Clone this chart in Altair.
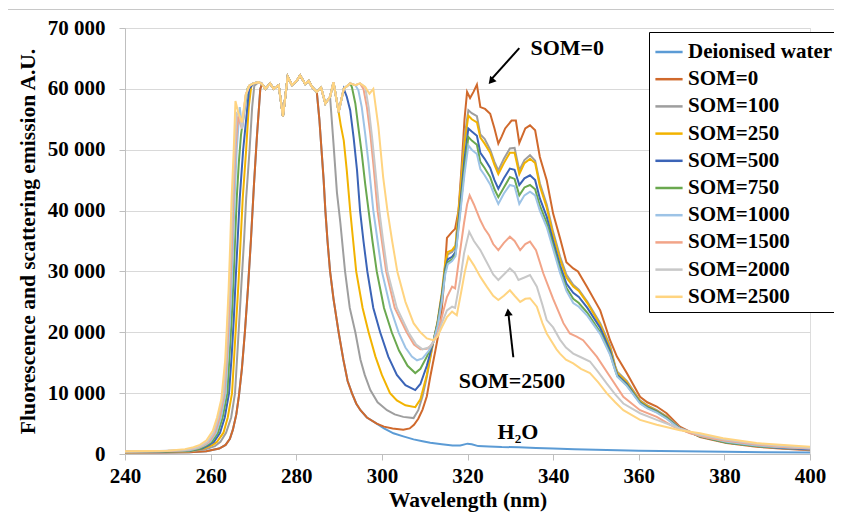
import altair as alt
import pandas as pd

SERIES = ["Deionised water", "SOM=0", "SOM=100", "SOM=250", "SOM=500",
          "SOM=750", "SOM=1000", "SOM=1500", "SOM=2000", "SOM=2500"]
COLORS = ["#5B9BD5", "#D0692C", "#9E9E9E", "#F2B300", "#3B64B7",
          "#6AA84F", "#9DC3E6", "#F2A488", "#C8C8C8", "#FFD480"]

# Saturated scattering plateau shared by all curves (wavelength, value)
PLATEAU = [(269.0, 60500), (270.0, 60900), (271.2, 61100), (272.0, 60800), (272.8, 60000),
           (273.9, 60900), (274.7, 60000), (275.9, 60600), (276.9, 55500), (278.0, 62000),
           (279.0, 60600), (280.2, 61400), (280.9, 62200), (282.1, 60800), (282.9, 61300),
           (283.7, 60300), (284.8, 59500), (285.8, 60200), (286.8, 57600), (287.9, 58700),
           (288.7, 61100), (289.9, 56200), (291.1, 60000), (292.6, 60900), (293.8, 60600),
           (294.9, 60900), (296.1, 60300), (297.1, 59200), (298.0, 60000)]

WATER_RISE = [(240, 250), (248, 250), (255, 300), (259, 450), (262, 900), (263.5, 1500), (264.5, 2500),
              (265.2, 4000), (266.0, 6500), (266.6, 9500), (267.3, 14000), (268.0, 20000), (268.7, 27000),
              (269.4, 35000), (270.1, 44000), (270.8, 52000), (271.6, 60000)]
WATER_FALL = [(285.4, 55000), (285.9, 50000), (286.4, 45000), (286.8, 40000), (287.3, 35000), (287.9, 30000),
              (288.7, 25500), (289.9, 20000), (291.0, 15500), (292.0, 12000), (293.0, 10000), (294.0, 8300),
              (295.0, 7200), (296.5, 6000), (298.8, 5000), (300.5, 4200), (302.7, 3400), (305.0, 2900),
              (307.4, 2400), (309.5, 2100), (311.3, 1850), (314.0, 1600), (316.5, 1400), (318.3, 1400),
              (320.0, 1700), (321.0, 1600), (322.5, 1300), (325.0, 1250), (328.0, 1150), (332.0, 1100),
              (336.0, 1000), (340.0, 900), (345.0, 800), (350.0, 700), (360.0, 550), (370.0, 450),
              (380.0, 350), (390.0, 300), (400.0, 250)]

SOM0_RISE = [(240, 250), (248, 250), (255, 300), (259, 450), (262, 900), (263.5, 1500), (264.5, 2500),
             (265.2, 4000), (266.0, 6500), (266.6, 9500), (267.3, 14000), (268.0, 20000), (268.7, 27000),
             (269.4, 35000), (270.1, 44000), (270.8, 52000), (271.6, 60000)]
SOM0_FALL = [(285.4, 55000), (285.9, 50000), (286.4, 45000), (286.8, 40000), (287.3, 35000), (287.9, 30000),
             (288.7, 25500), (289.9, 20000), (291.0, 15500), (292.0, 12000), (293.0, 10000), (294.0, 8300),
             (295.0, 7200), (296.5, 6000), (298.8, 5000), (300.5, 4500), (302.5, 4200), (305.0, 4000),
             (306.5, 4200), (307.5, 4800), (308.5, 5800), (309.5, 7300), (310.5, 9500), (311.3, 12700),
             (312.5, 17000), (313.7, 21500), (314.5, 28000), (315.2, 35500), (316.4, 36500), (317.1, 37000),
             (317.9, 40000), (318.6, 47000), (319.3, 55000), (319.9, 59500), (320.6, 58500), (321.4, 59500),
             (322.2, 60700), (323.0, 57000), (324.1, 56700), (325.3, 55900), (326.3, 53500), (327.2, 51000),
             (328.0, 52200), (328.8, 53500), (330.3, 54800), (331.3, 54800), (332.1, 51100), (333.5, 53500),
             (334.6, 54000), (335.8, 53200), (336.9, 48800), (338.5, 45000), (340.0, 39500), (341.6, 35500),
             (343.1, 31500), (344.7, 30500), (345.8, 30000), (347.9, 27500), (351.0, 23600), (353.3, 18700),
             (354.9, 16000), (357.2, 13300), (360.3, 9400), (362.0, 8500), (364.2, 7800), (366.5, 6700),
             (369.6, 4500), (374.3, 2800), (380.5, 1800), (387.5, 1200), (393.0, 900), (400.0, 600)]

SOM100_RISE = [(240, 300), (248, 320), (255, 400), (259, 800), (261, 1300), (262.3, 2000), (263.6, 3500),
               (264.8, 6000), (265.7, 10000), (266.2, 16000), (266.7, 22000), (267.2, 28000), (267.8, 35000),
               (268.3, 42000), (269.1, 50000), (269.7, 57000), (270.2, 60500)]
SOM100_FALL = [(288.7, 51000), (289.5, 43000), (290.3, 38000), (291.4, 30000), (292.5, 24000), (293.8, 20000),
               (295.0, 15500), (296.0, 13000), (297.3, 10500), (299.0, 8500), (301.2, 7200), (303.0, 6500),
               (305.0, 6100), (307.4, 5900), (308.5, 7200), (309.5, 9500), (310.5, 12700), (312.0, 18400),
               (313.0, 21500), (314.0, 26000), (314.8, 31000), (315.4, 32800), (316.4, 33200), (317.2, 34000),
               (318.3, 43000), (319.3, 52000), (320.2, 56500), (321.0, 56000), (322.2, 55500), (323.0, 52500),
               (324.0, 51800), (325.3, 50000), (326.3, 48000), (327.2, 46600), (328.5, 48500), (329.9, 50200),
               (331.0, 50300), (332.1, 46600), (333.3, 48300), (334.6, 49100), (335.8, 48200), (336.9, 44500),
               (338.5, 41000), (340.0, 36500), (341.6, 32500), (343.1, 29500), (344.7, 27800), (346.0, 27000),
               (348.0, 25000), (351.0, 21500), (353.3, 17800), (354.5, 14500), (355.0, 13500), (357.2, 12000),
               (360.3, 8800), (362.0, 8000), (364.2, 7200), (366.5, 6200), (369.6, 4300), (374.3, 2900),
               (380.5, 1900), (387.5, 1300), (393.0, 1000), (400.0, 700)]

SOM250_RISE = [(240, 300), (248, 320), (255, 450), (258.5, 900), (260.5, 1500), (261.5, 2000), (263.0, 3500),
               (264.0, 6000), (265.0, 10000), (265.5, 16000), (266.0, 22000), (266.5, 28000), (267.0, 35000),
               (267.5, 42000), (268.3, 50000), (268.9, 57000), (269.5, 60500)]
SOM250_FALL = [(290.4, 54000), (291.1, 51500), (291.8, 46600), (292.6, 40000), (293.3, 35000), (294.0, 30000),
               (295.5, 24000), (296.9, 20000), (298.5, 16000), (300.0, 13000), (301.9, 10000), (303.5, 8800),
               (305.5, 8000), (307.8, 7700), (309.0, 9000), (310.5, 13000), (312.0, 18400), (313.0, 21800),
               (314.0, 26500), (314.8, 31500), (315.4, 33200), (316.4, 33500), (317.2, 34300), (318.3, 43000),
               (319.3, 51000), (320.2, 55600), (321.0, 55000), (322.2, 54500), (323.0, 52000), (324.0, 51000),
               (325.3, 49500), (326.3, 47500), (327.2, 46000), (328.5, 47800), (329.9, 49500), (331.0, 49500),
               (332.1, 46000), (333.3, 47800), (334.6, 48500), (335.8, 47800), (336.9, 44000), (338.5, 40500),
               (340.0, 36000), (341.6, 32000), (343.1, 29000), (344.7, 27500), (346.0, 26800), (348.0, 24800),
               (351.0, 21200), (353.3, 17500), (354.5, 14300), (355.0, 13300), (357.2, 11800), (360.3, 8700),
               (362.0, 7900), (364.2, 7100), (366.5, 6100), (369.6, 4200), (374.3, 2900), (380.5, 1900),
               (387.5, 1300), (393.0, 1000), (400.0, 800)]

SOM500_RISE = [(240, 350), (248, 380), (255, 500), (258, 900), (259.5, 1400), (260.8, 2000), (262.2, 3500),
               (263.3, 6000), (264.3, 10000), (264.9, 16000), (265.4, 22000), (265.8, 28000), (266.3, 35000),
               (266.8, 42000), (267.6, 50000), (268.3, 55000), (269.0, 60000)]
SOM500_FALL = [(291.8, 58700), (292.6, 56500), (293.4, 52000), (294.2, 46600), (294.9, 40000), (295.7, 35000),
               (296.6, 30000), (298.0, 24000), (299.6, 20000), (301.5, 16000), (303.5, 13000), (305.5, 11300),
               (307.8, 10500), (309.0, 11500), (310.5, 14500), (312.0, 18400), (313.0, 21500), (314.0, 26000),
               (314.8, 30500), (315.4, 32000), (316.4, 32400), (317.2, 33200), (318.3, 41000), (319.3, 48500),
               (320.2, 53500), (321.0, 53000), (322.2, 52300), (323.0, 49500), (324.0, 48500), (325.3, 47000),
               (326.3, 45000), (327.2, 43600), (328.5, 45300), (329.9, 46900), (331.0, 46700), (332.1, 44200),
               (333.3, 45300), (334.6, 45800), (335.8, 45000), (336.9, 42000), (338.5, 39000), (340.0, 35000),
               (341.6, 31000), (343.1, 28000), (344.7, 26500), (346.0, 25800), (348.0, 24000), (351.0, 20700),
               (353.3, 17000), (354.5, 14000), (355.0, 13000), (357.2, 11500), (360.3, 8500), (362.0, 7700),
               (364.2, 7000), (366.5, 6000), (369.6, 4200), (374.3, 2900), (380.5, 1900), (387.5, 1300),
               (393.0, 1000), (400.0, 800)]

SOM750_RISE = [(240, 350), (248, 400), (255, 550), (257.5, 900), (259, 1400), (260.3, 2000), (261.7, 3500),
               (262.8, 6000), (263.9, 10000), (264.4, 16000), (264.9, 22000), (265.3, 28000), (265.7, 35000),
               (266.1, 42000), (266.6, 48000), (267.1, 52500), (267.8, 56000), (268.6, 60000)]
SOM750_FALL = [(293.0, 60300), (293.8, 57600), (294.5, 53700), (295.3, 49400), (296.1, 44400), (296.9, 40000),
               (297.8, 35000), (298.8, 30000), (300.5, 24000), (302.3, 20000), (304.0, 17000), (306.0, 14500),
               (307.8, 13300), (309.0, 14000), (310.5, 16000), (312.0, 18400), (313.0, 21300), (314.0, 25500),
               (314.8, 30000), (315.4, 31500), (316.4, 32000), (317.2, 32800), (318.3, 40000), (319.3, 47000),
               (320.2, 52100), (321.0, 51500), (322.2, 50800), (323.0, 48000), (324.0, 47000), (325.3, 45500),
               (326.3, 43500), (327.2, 42200), (328.5, 43800), (329.9, 45500), (331.0, 45200), (332.1, 42500),
               (333.3, 43800), (334.6, 44200), (335.8, 43500), (336.9, 40800), (338.5, 38000), (340.0, 34200),
               (341.6, 30300), (343.1, 27300), (344.7, 25500), (346.0, 24800), (348.0, 23200), (351.0, 20000),
               (353.3, 16500), (354.5, 13800), (355.0, 12800), (357.2, 11300), (360.3, 8400), (362.0, 7600),
               (364.2, 6900), (366.5, 5900), (369.6, 4100), (374.3, 2900), (380.5, 1900), (387.5, 1300),
               (393.0, 1100), (400.0, 1100)]

SOM1000_RISE = [(240, 400), (248, 450), (255, 600), (257.3, 1000), (258.8, 1500), (259.9, 2000), (261.3, 3500),
                (262.4, 6000), (263.5, 10000), (264.0, 16000), (264.5, 22000), (264.9, 28000), (265.3, 35000),
                (265.6, 42000), (266.1, 50000), (266.8, 57000), (267.4, 53500), (268.3, 59000)]
SOM1000_FALL = [(294.5, 59800), (295.3, 57000), (296.1, 52600), (296.9, 47700), (298.0, 40000), (299.0, 35000),
                (300.0, 30000), (302.0, 24000), (303.9, 20000), (305.5, 17500), (307.0, 16000), (308.2, 15400),
                (309.5, 15700), (311.0, 17000), (312.0, 18400), (313.0, 21000), (314.0, 25000), (314.8, 29500),
                (315.4, 31200), (316.4, 31700), (317.2, 32500), (318.3, 39500), (319.3, 46000), (320.2, 50700),
                (321.0, 50000), (322.2, 49300), (323.0, 46800), (324.0, 45800), (325.3, 44300), (326.3, 42500),
                (327.2, 41100), (328.5, 42800), (329.9, 44200), (331.0, 44000), (332.1, 41100), (333.3, 42500),
                (334.6, 43100), (335.8, 42500), (336.9, 40000), (338.5, 37300), (340.0, 33700), (341.6, 29800),
                (343.1, 26800), (344.7, 24800), (346.0, 24200), (348.0, 22700), (351.0, 19700), (353.3, 16300),
                (354.5, 13700), (355.0, 12700), (357.2, 11200), (360.3, 8300), (362.0, 7500), (364.2, 6800),
                (366.5, 5800), (369.6, 4100), (374.3, 3000), (380.5, 2000), (387.5, 1400), (393.0, 1100),
                (400.0, 900)]

SOM1500_RISE = [(240, 400), (248, 450), (254, 600), (257, 1000), (258.5, 1500), (259.6, 2000), (261.0, 3500),
                (262.1, 6000), (263.2, 10000), (263.8, 16000), (264.2, 22000), (264.6, 28000), (265.0, 35000),
                (265.3, 42000), (265.8, 50000), (266.4, 55500), (267.3, 53500), (268.2, 59000)]
SOM1500_FALL = [(295.7, 60000), (296.5, 57000), (297.3, 52600), (298.0, 47700), (299.0, 40000), (300.0, 35000),
                (301.0, 30000), (303.0, 24000), (305.8, 20000), (307.5, 18000), (309.0, 17200), (310.5, 17300),
                (311.5, 17800), (312.0, 18400), (313.0, 19800), (314.0, 22500), (315.2, 25800), (316.4, 27500),
                (317.1, 27200), (318.3, 33500), (319.2, 38000), (319.9, 41000), (320.5, 42500), (321.5, 41000),
                (322.2, 39800), (323.0, 38400), (324.0, 37000), (325.0, 36000), (326.0, 34500), (327.2, 33500),
                (328.5, 34700), (329.9, 35700), (331.0, 35000), (332.3, 33500), (333.5, 34500), (334.6, 34900),
                (336.0, 33500), (337.7, 29700), (340.0, 25500), (342.4, 21500), (343.9, 19800), (345.5, 19300),
                (347.0, 18700), (350.2, 16000), (353.3, 12700), (356.4, 9400), (360.3, 7200), (364.2, 6100),
                (368.1, 4500), (372.0, 3400), (376.0, 2700), (380.0, 2200), (387.0, 1600), (393.0, 1200),
                (400.0, 900)]

SOM2000_RISE = [(240, 400), (248, 480), (254, 650), (256.7, 1000), (258.2, 1500), (259.3, 2000), (260.7, 3500),
                (261.8, 6000), (263.0, 10000), (263.6, 16000), (264.0, 22000), (264.4, 28000), (264.8, 35000),
                (265.1, 42000), (265.6, 50000), (266.1, 56000), (266.8, 55500), (267.3, 53500), (268.2, 59000)]
SOM2000_FALL = [(296.9, 57000), (297.7, 52100), (298.4, 47200), (299.4, 40000), (300.3, 35000), (301.3, 30000),
                (303.5, 24000), (306.2, 20000), (308.0, 18000), (309.5, 17200), (311.0, 17500), (312.0, 18400),
                (313.0, 19500), (314.0, 21500), (315.2, 23600), (316.4, 24200), (317.1, 24000), (318.3, 28600),
                (319.2, 33000), (319.9, 35100), (320.4, 36500), (321.5, 35000), (323.0, 33500), (324.5, 31500),
                (326.0, 29500), (327.2, 28600), (328.5, 29500), (329.9, 30500), (331.0, 29800), (331.9, 28600),
                (333.3, 29000), (334.6, 29400), (336.2, 27500), (337.5, 24500), (338.5, 22000), (340.0, 20800),
                (341.6, 18800), (343.0, 17500), (344.7, 16500), (346.5, 15900), (348.6, 15200), (350.5, 13500),
                (352.5, 11600), (354.5, 9800), (356.4, 8300), (360.3, 6700), (364.2, 5600), (369.6, 4200),
                (374.0, 3200), (380.0, 2400), (387.5, 1700), (393.0, 1300), (400.0, 1000)]

SOM2500_RISE = [(240, 450), (245, 480), (250, 550), (254, 800), (256, 1100), (257.5, 1500), (259, 2200),
                (260.5, 3800), (261.5, 6000), (262.5, 9000), (263.4, 15400), (263.8, 21000), (264.2, 27000),
                (264.6, 35000), (264.9, 42000), (265.4, 50000), (265.8, 58000), (266.5, 56000), (267.3, 54500),
                (268.2, 59000)]
SOM2500_FALL = [(299.2, 53700), (300.3, 45500), (301.3, 40000), (302.4, 35000), (303.6, 30000), (305.5, 25000),
                (307.4, 21500), (309.0, 20000), (310.5, 19000), (312.0, 18700), (313.0, 19300), (314.0, 20800),
                (315.2, 22500), (316.4, 23400), (317.5, 22800), (318.6, 26900), (319.4, 30000), (320.2, 32400),
                (321.5, 31000), (323.0, 29100), (324.5, 27500), (326.0, 26000), (327.2, 25300), (328.5, 26000),
                (329.9, 26900), (331.0, 26000), (332.3, 25000), (333.5, 25500), (334.6, 25600), (336.2, 24200),
                (337.5, 21500), (338.5, 19800), (340.8, 17200), (341.6, 16500), (343.0, 15500), (344.7, 14900),
                (346.5, 14000), (348.6, 13300), (350.5, 11800), (352.5, 10000), (354.5, 8500), (356.4, 7200),
                (360.3, 5600), (364.2, 4800), (369.6, 3900), (374.3, 3400), (379.7, 2600), (387.5, 1800),
                (393.0, 1500), (400.0, 1200)]

# (rise, plateau wavelength range, fall) per series
PARTS = {
    "Deionised water": (WATER_RISE, (272.0, 284.8), WATER_FALL),
    "SOM=0": (SOM0_RISE, (272.0, 284.8), SOM0_FALL),
    "SOM=100": (SOM100_RISE, (271.2, 287.9), SOM100_FALL),
    "SOM=250": (SOM250_RISE, (270.0, 289.9), SOM250_FALL),
    "SOM=500": (SOM500_RISE, (270.0, 291.1), SOM500_FALL),
    "SOM=750": (SOM750_RISE, (269.0, 292.6), SOM750_FALL),
    "SOM=1000": (SOM1000_RISE, (269.0, 293.8), SOM1000_FALL),
    "SOM=1500": (SOM1500_RISE, (269.0, 294.9), SOM1500_FALL),
    "SOM=2000": (SOM2000_RISE, (269.0, 296.1), SOM2000_FALL),
    "SOM=2500": (SOM2500_RISE, (269.0, 298.0), SOM2500_FALL),
}

rows = []
for name in SERIES:
    rise, (lo, hi), fall = PARTS[name]
    pts = rise + [p for p in PLATEAU if lo <= p[0] <= hi] + fall
    for wl, v in pts:
        rows.append({"series": name, "wl": wl, "v": v})
df = pd.DataFrame(rows)

FONT = "Liberation Serif"

lines = alt.Chart(df).mark_line(strokeWidth=2, clip=True).encode(
    x=alt.X("wl:Q", scale=alt.Scale(domain=[240, 400], nice=False),
            axis=alt.Axis(values=list(range(240, 401, 20)), title="Wavelength (nm)", grid=False,
                          labelFont=FONT, labelFontSize=21, labelFontWeight="bold", labelColor="black",
                          titleFont=FONT, titleFontSize=21.5, titleFontWeight="bold", titleColor="black",
                          domainColor="#BFBFBF", tickColor="#BFBFBF", tickSize=6, labelPadding=5,
                          titlePadding=3, labelFlush=False)),
    y=alt.Y("v:Q", scale=alt.Scale(domain=[0, 70000], nice=False),
            axis=alt.Axis(values=list(range(0, 70001, 10000)),
                          labelExpr="replace(format(datum.value, ','), ',', ' ')",
                          title="Fluorescence and scattering emission A.U.",
                          labelFont=FONT, labelFontSize=21, labelFontWeight="bold", labelColor="black",
                          titleFont=FONT, titleFontSize=21.5, titleFontWeight="bold", titleColor="black",
                          domainColor="#BFBFBF", tickColor="#BFBFBF", tickSize=6, labelPadding=14,
                          titlePadding=8, gridColor="#D9D9D9", gridWidth=1.2)),
    color=alt.Color("series:N", scale=alt.Scale(domain=SERIES, range=COLORS),
                    legend=alt.Legend(title=None, orient="none", legendX=524, legendY=4,
                                      symbolType="stroke", symbolSize=740, symbolStrokeWidth=2.5,
                                      labelFont=FONT, labelFontSize=21, labelFontWeight="bold",
                                      labelColor="black", strokeColor="black", fillColor="white",
                                      padding=5, rowPadding=2.2, labelOffset=4, labelLimit=300)),
    detail="series:N",
)

# Annotations
ANN_TEXT = ["SOM=0", "SOM=2500", "H\u2082O"]
ANN_WL = [343.3, 330.4, 331.8]
ANN_V = [66700, 12000, 3600]
ann_df = pd.DataFrame({"t": ANN_TEXT, "wl": ANN_WL, "v": ANN_V})
texts = alt.Chart(ann_df).mark_text(font=FONT, fontSize=22, fontWeight="bold", color="black",
                                    align="center", baseline="middle").encode(
    x="wl:Q", y="v:Q", text="t:N")

ARROW_ID = ["a0", "a0", "a1", "a1"]
ARROW_WL = [332.1, 325.6, 330.7, 329.6]
ARROW_V = [66700, 61600, 15900, 22800]
arrow_df = pd.DataFrame({"id": ARROW_ID, "wl": ARROW_WL, "v": ARROW_V})
arrow_lines = alt.Chart(arrow_df).mark_line(color="black", strokeWidth=2).encode(
    x="wl:Q", y="v:Q", detail="id:N")

HEAD_WL = [325.5, 329.5]
HEAD_V = [61250, 23300]
HEAD_ANGLE = [220, 353]
head_df = pd.DataFrame({"wl": HEAD_WL, "v": HEAD_V, "ang": HEAD_ANGLE})
heads = alt.Chart(head_df).mark_point(shape="triangle-up", filled=True, color="black",
                                      size=70, opacity=1).encode(
    x="wl:Q", y="v:Q", angle=alt.Angle("ang:Q", scale=None))

border = alt.Chart(pd.DataFrame({"a": [0]})).mark_rect(
    fillOpacity=0, stroke="#C8C8C8", strokeWidth=1).encode(
    x=alt.value(-118.5), x2=alt.value(715.5), y=alt.value(-18.5), y2=alt.value(520))

chart = alt.layer(border, lines, arrow_lines, heads, texts).properties(
    width=685, height=426,
    autosize=alt.AutoSizeParams(type="none"),
    padding={"left": 117, "top": 20, "right": 24, "bottom": 60},
).configure_view(stroke=None).configure(font=FONT)

chart.save("out.html", embed_options={"renderer": "svg", "actions": False})
